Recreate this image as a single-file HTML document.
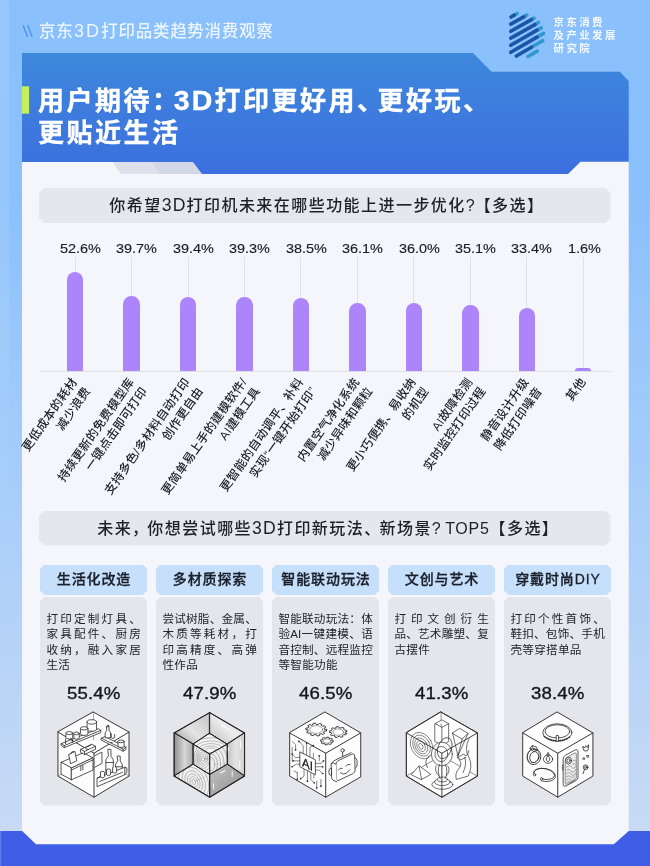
<!DOCTYPE html>
<html lang="zh-CN">
<head>
<meta charset="utf-8">
<title>京东3D打印品类趋势消费观察</title>
<style>
html,body{margin:0;padding:0;}
body{width:650px;height:866px;position:relative;overflow:hidden;
 font-family:"Liberation Sans","Noto Sans CJK SC",sans-serif;color:#20242c;
 background:linear-gradient(180deg,#8ac0fc 0%,#8ac0fc 22%,#a3ccfa 52%,#c8daf4 96%);}
#bg{position:absolute;left:0;top:0;width:650px;height:866px;}
.abs{position:absolute;}
#toptitle{position:absolute;left:39px;top:19px;height:24px;line-height:24px;font-size:16.5px;letter-spacing:0.7px;color:#ecf5ff;font-weight:500;white-space:nowrap;}
#logotext{position:absolute;left:553.6px;top:15.7px;font-size:10.4px;line-height:13px;letter-spacing:2.45px;color:#f4f9ff;font-weight:700;white-space:nowrap;}
#h1{position:absolute;left:38px;top:84.5px;font-size:26px;line-height:32.5px;font-weight:700;color:#fff;letter-spacing:2.5px;white-space:nowrap;-webkit-text-stroke:0.35px #fff;}
#h1 .p{display:inline-block;width:20.5px;overflow:visible;}
.pill{position:absolute;left:39px;width:571.5px;height:35px;background:#e5e7ed;font-size:16px;line-height:35px;letter-spacing:1.45px;color:#1c2028;font-weight:500;white-space:nowrap;
 clip-path:polygon(5px 0,calc(100% - 5px) 0,100% 5px,100% calc(100% - 5px),calc(100% - 5px) 100%,5px 100%,0 calc(100% - 5px),0 5px);}
.vl{position:absolute;width:1px;background:#dfe2e8;}
.bar{position:absolute;width:16.4px;background:#ac85fb;border-radius:8.2px 8.2px 0 0;}
.val{position:absolute;top:240px;height:18px;line-height:18px;font-size:13.5px;letter-spacing:0;color:#1a1d24;white-space:nowrap;transform:scaleX(1.07);transform-origin:0 50%;-webkit-text-stroke:0.15px #1a1d24;}
.lab{position:absolute;top:371.5px;font-size:12px;line-height:15.7px;text-align:right;white-space:nowrap;color:#1c2028;font-weight:500;letter-spacing:0.3px;
 transform-origin:100% 7.85px;transform:rotate(-55deg);}
#axis{position:absolute;left:40px;top:370.5px;width:570.5px;height:1px;background:#dde0e7;}
.chd{position:absolute;top:564.5px;width:107.5px;height:30.5px;line-height:29.5px;background:#c6e0fc;text-align:center;font-size:14px;font-weight:500;letter-spacing:0.9px;padding-left:0.9px;box-sizing:border-box;color:#1a1f29;-webkit-text-stroke:0.3px #1a1f29;white-space:nowrap;
 clip-path:polygon(4.5px 0,calc(100% - 4.5px) 0,100% 4.5px,100% calc(100% - 4.5px),calc(100% - 4.5px) 100%,4.5px 100%,0 calc(100% - 4.5px),0 4.5px);}
.cbd{position:absolute;top:597px;width:107.5px;height:208.5px;background:#e4e6ec;
 clip-path:polygon(4.5px 0,calc(100% - 4.5px) 0,100% 4.5px,100% calc(100% - 4.5px),calc(100% - 4.5px) 100%,4.5px 100%,0 calc(100% - 4.5px),0 4.5px);}
.ctx{position:absolute;left:6.6px;top:13.5px;width:94.4px;font-size:11.6px;line-height:15.5px;color:#20242c;}
.ctx span{display:block;white-space:nowrap;height:15.5px;}
.ctx .jl{text-align:justify;text-align-last:justify;text-justify:inter-character;}
.ctx .ll{text-align:left;letter-spacing:0.3px;}
.pct{position:absolute;left:0;width:100%;top:84.2px;height:24px;line-height:24px;text-align:center;font-size:17.4px;letter-spacing:0.15px;color:#14171d;-webkit-text-stroke:0.35px #14171d;transform:scaleX(1.07);}
.cube{position:absolute;left:13px;top:110px;width:82px;height:94px;}
.pill span.t{position:absolute;top:0;}
.pill .l{font-size:17.6px;letter-spacing:1.2px;line-height:10px;}
.pill .q{letter-spacing:0;}
.pill .pn{margin-right:-2.2px;}
</style>
</head>
<body>
<svg id="bg" viewBox="0 0 650 866">
 <defs>
  <linearGradient id="hg" x1="0" y1="0" x2="0" y2="1">
   <stop offset="0" stop-color="#3e88dc"/>
   <stop offset="1" stop-color="#3c6fdf"/>
  </linearGradient>
 <linearGradient id="sg" x1="0" y1="0" x2="0" y2="1"><stop offset="0" stop-color="#fff" stop-opacity="0.12"/><stop offset=".35" stop-color="#fff" stop-opacity="0.08"/><stop offset=".6" stop-color="#fff" stop-opacity="0"/></linearGradient>
 </defs>
 <rect x="0" y="0" width="9" height="866" fill="url(#sg)"/>
 <!-- white panel -->
 <rect x="22" y="160" width="606.7" height="690" fill="#f5f6fb"/>
 <!-- grey tab -->
 <polygon points="112,161 193,161 202,174 120.6,174" fill="#dde1eb"/>
 <polygon points="151.4,161 193,161 202,174 159.5,174" fill="#d2d8e5"/>
 <!-- blue header -->
 <polygon points="22,53 473,53 491.5,71.7 619.8,71.7 628.7,81 628.7,161.7 580.5,161.7 568,174 202,174 193,162 22,162" fill="url(#hg)"/>
 <path d="M23.1,25.3 L27.6,37 M27.6,25.3 L32.2,37" stroke="#4c92e4" stroke-width="1.3" fill="none"/>
 <!-- green accent -->
 <rect x="21.7" y="86.3" width="7.4" height="27.4" fill="#c6f05a"/>
 <!-- footer -->
 <polygon points="0,831 22.2,831 36,844.2 613.8,844.2 628.7,831 650,831 650,866 0,866" fill="#3e5ee6"/>
 <rect x="0" y="831" width="1.2" height="35" fill="#5d7cf0"/>
 <!-- logo -->
 <g id="logo" transform="translate(500,5) scale(0.0862)" stroke-linecap="round" stroke-width="42" fill="none">
  <path d="M325,598 L432,535 M365,490 L495,415 M430,372 L505,330 M430,292 L480,265 M405,228 L445,203 M365,170 L395,152 M275,137 L310,118 M165,118 L200,98" stroke="#3398cf"/>
  <path d="M128,140 L165,118 M125,222 L275,137 M125,305 L365,170 M125,385 L405,228 M125,467 L430,292 M125,548 L430,372 M190,592 L365,490" stroke="#1a55a8"/>
 </g>
</svg>

<div id="toptitle">京东<span style="font-size:18px;letter-spacing:2.2px;margin-left:0.5px;line-height:10px">3D</span>打印品类趋势消费观察</div>
<div id="logotext">京东消费<br>及产业发展<br>研究院</div>

<div id="h1">用户期待<span class="p">：</span><span style="font-size:28.5px;letter-spacing:2.2px;margin-left:1.2px;line-height:20px">3D</span>打印更好用<span class="p">、</span>更好玩<span class="p">、</span><br>更贴近生活</div>

<div class="pill" style="top:188px"><span class="t" style="left:70.3px">你希望<span class="l">3D</span>打印机未来在哪些功能上进一步优化<span class="q">?</span>【多选】</span></div>
<div id="axis"></div>
<div class="vl" style="left:74.65px;top:257px;height:14.8px"></div>
<div class="bar" style="left:66.95px;top:271.8px;height:99.2px"></div>
<div class="val" style="left:59.75px">52.6%</div>
<div class="lab" style="right:574.95px">更低成本的耗材<br>减少浪费</div>
<div class="vl" style="left:131.11px;top:257px;height:39.2px"></div>
<div class="bar" style="left:123.41px;top:296.2px;height:74.8px"></div>
<div class="val" style="left:116.21px">39.7%</div>
<div class="lab" style="right:518.49px">持续更新的免费模型库<br>一键点击即可打印</div>
<div class="vl" style="left:187.57px;top:257px;height:39.7px"></div>
<div class="bar" style="left:179.87px;top:296.7px;height:74.3px"></div>
<div class="val" style="left:172.67px">39.4%</div>
<div class="lab" style="right:462.03px">支持多色/多材料自动打印<br>创作更自由</div>
<div class="vl" style="left:244.03px;top:257px;height:39.9px"></div>
<div class="bar" style="left:236.33px;top:296.9px;height:74.1px"></div>
<div class="val" style="left:229.13px">39.3%</div>
<div class="lab" style="right:405.57px">更简单易上手的建模软件/<br>AI建模工具</div>
<div class="vl" style="left:300.49px;top:257px;height:41.4px"></div>
<div class="bar" style="left:292.79px;top:298.4px;height:72.6px"></div>
<div class="val" style="left:285.59px">38.5%</div>
<div class="lab" style="right:349.11px">更智能的自动调平、补料<br>实现“一键开始打印”</div>
<div class="vl" style="left:356.95px;top:257px;height:46.0px"></div>
<div class="bar" style="left:349.25px;top:303.0px;height:68.0px"></div>
<div class="val" style="left:342.05px">36.1%</div>
<div class="lab" style="right:292.65px">内置空气净化系统<br>减少异味和颗粒</div>
<div class="vl" style="left:413.41px;top:257px;height:46.1px"></div>
<div class="bar" style="left:405.71px;top:303.1px;height:67.9px"></div>
<div class="val" style="left:398.51px">36.0%</div>
<div class="lab" style="right:236.19px">更小巧便携、易收纳<br>的机型</div>
<div class="vl" style="left:469.87px;top:257px;height:47.8px"></div>
<div class="bar" style="left:462.17px;top:304.8px;height:66.2px"></div>
<div class="val" style="left:454.97px">35.1%</div>
<div class="lab" style="right:179.73px">AI故障检测<br>实时监控打印过程</div>
<div class="vl" style="left:526.33px;top:257px;height:51.0px"></div>
<div class="bar" style="left:518.63px;top:308.0px;height:63.0px"></div>
<div class="val" style="left:511.43px">33.4%</div>
<div class="lab" style="right:123.27px">静音设计升级<br>降低打印噪音</div>
<div class="vl" style="left:582.79px;top:257px;height:111.0px"></div>
<div class="bar" style="left:575.09px;top:368.0px;height:3.0px"></div>
<div class="val" style="left:567.89px">1.6%</div>
<div class="lab" style="right:66.81px">其他</div>

<div class="pill" style="top:510.5px"><span class="t" style="left:58.2px">未来<span class="pn">，</span>你想尝试哪些<span class="l">3D</span>打印新玩法<span class="pn">、</span>新场景<span class="q">? </span><span style="letter-spacing:0.7px">TOP5</span>【多选】</span></div>
<div class="chd" style="left:39.8px">生活化改造</div>
<div class="cbd" style="left:39.8px"><div class="ctx"><span class="jl">打印定制灯具、</span><span class="jl">家具配件、厨房</span><span class="jl">收纳，融入家居</span><span class="ll">生活</span></div><div class="pct">55.4%</div><svg class="cube" viewBox="0 0 82 94"><g transform="translate(-12.8,-2) scale(0.1692)" fill="none" stroke="#262626" stroke-width="4.6" stroke-linejoin="round" stroke-linecap="round">
<polygon points="315,42 525,160 525,420 318,545 105,420 105,160" fill="#fdfdfd" stroke-width="5.4"/>
<path d="M105,160 L318,285 L525,160 M318,285 L318,545" stroke-width="5.4"/>
<path d="M315,42 L315,205 M105,420 L200,365 M525,420 L505,408" stroke-width="3" stroke="#555"/>
<!-- left shelf -->
<path d="M125,228 L345,140 L358,150 L358,163 L142,252 L125,240 Z M125,228 L142,240 L358,150 M142,240 L142,252" fill="#fff"/>
<!-- jars -->
<path d="M277,100 v42 a28,13 0 0 0 56,0 v-42" fill="#fff"/><ellipse cx="305" cy="100" rx="28" ry="13" fill="#fff"/>
<path d="M238,138 v32 a22,10 0 0 0 44,0 v-32" fill="#fff"/><ellipse cx="260" cy="138" rx="22" ry="10" fill="#fff"/>
<path d="M199,168 v26 a16,8 0 0 0 32,0 v-26" fill="#fff"/><ellipse cx="215" cy="168" rx="16" ry="8" fill="#fff"/>
<path d="M152,166 v26 a20,9 0 0 0 40,0 v-26" fill="#fff"/><ellipse cx="172" cy="166" rx="20" ry="9" fill="#fff"/>
<path d="M150,200 v28 M190,200 v20"/>
<!-- right shelf -->
<path d="M362,196 L382,186 L507,250 L507,263 L490,273 L362,208 Z M362,196 L490,261 L507,250 M490,261 L490,273" fill="#fff"/>
<path d="M393,128 h14 v22 l9,14 v30 h-32 v-30 l9,-14 z" fill="#fff"/><circle cx="400" cy="124" r="5" fill="#fff"/>
<path d="M460,215 v28 a18,8 0 0 0 36,0 v-28" fill="#fff"/><ellipse cx="478" cy="215" rx="18" ry="8" fill="#fff"/>
<path d="M420,170 v22 a10,5 0 0 0 20,0 v-18" />
<!-- counter -->
<path d="M125,338 L255,282 L312,312 L185,372 Z" fill="#fff"/>
<path d="M125,338 L185,372 L185,442 L125,410 Z" fill="#fff"/>
<path d="M185,372 L312,312 L312,385 L185,442 Z" fill="#fff"/>
<path d="M185,384 L312,324 M240,362 v26 M252,357 v26"/>
<path d="M170,292 L205,274 L216,330 L182,346 Z M178,290 q8,-22 22,-14" fill="#fff"/>
<path d="M240,262 L305,232 L327,244 L327,262 L262,292 L240,280 Z M240,262 L262,274 L327,244 M262,274 v18 M270,250 l30,-13" fill="#fff"/>
<path d="M322,300 L365,278 L365,345 L322,368" />
<!-- bottles -->
<path d="M402,262 h16 v40 l14,22 v80 h-44 v-80 l14,-22 z" fill="#fff"/><path d="M388,340 h44"/>
<path d="M457,302 h16 v30 l12,18 v56 h-40 v-56 l12,-18 z" fill="#fff"/><path d="M445,365 h40"/>
<!-- crate -->
<path d="M338,432 L500,368 L500,412 L338,482 Z" fill="#fff"/>
<path d="M338,432 L358,420 M500,368 L512,372 L512,398 L500,412"/>
<path d="M356,398 v26 a12,6 0 0 0 24,0 v-26 a12,6 0 0 0 -24,0 M392,384 v26 a12,6 0 0 0 24,0 v-26 a12,6 0 0 0 -24,0 M428,370 v26 a12,6 0 0 0 24,0 v-26" fill="#fff"/>
<path d="M352,452 L486,398" />
</g></svg></div>
<div class="chd" style="left:155.8px">多材质探索</div>
<div class="cbd" style="left:155.8px"><div class="ctx"><span class="jl">尝试树脂、金属、</span><span class="jl">木质等耗材，打</span><span class="jl">印高精度、高弹</span><span class="ll">性作品</span></div><div class="pct">47.9%</div><svg class="cube" viewBox="0 0 82 94">
<defs>
<linearGradient id="m1" x1="0" y1="1" x2="1" y2="0"><stop offset="0" stop-color="#9a9a9a"/><stop offset=".45" stop-color="#e4e4e4"/><stop offset="1" stop-color="#c4c4c4"/></linearGradient>
<linearGradient id="m2" x1="0" y1="0" x2="1" y2="0"><stop offset="0" stop-color="#909090"/><stop offset=".55" stop-color="#d8d8d8"/><stop offset="1" stop-color="#a8a8a8"/></linearGradient>
<linearGradient id="m3" x1="1" y1="1" x2="0" y2="0"><stop offset="0" stop-color="#8c8c8c"/><stop offset="1" stop-color="#c4c4c4"/></linearGradient>
<linearGradient id="m4" x1="0" y1="0" x2="1" y2="0"><stop offset="0" stop-color="#c2c2c2"/><stop offset=".5" stop-color="#e4e4e4"/><stop offset="1" stop-color="#cfcfcf"/></linearGradient>
<linearGradient id="m5" x1="0" y1="1" x2="1" y2="0"><stop offset="0" stop-color="#bdbdbd"/><stop offset=".5" stop-color="#ececec"/><stop offset="1" stop-color="#d8d8d8"/></linearGradient>
<clipPath id="cit"><polygon points="322,168 425,232 322,290 225,232"/></clipPath><clipPath id="cil"><polygon points="225,232 322,290 322,410 225,350"/></clipPath><clipPath id="cir"><polygon points="425,232 322,290 322,410 425,350"/></clipPath>
<clipPath id="cbl"><polygon points="112,420 322,545 322,410 225,350"/></clipPath>
</defs>
<g transform="translate(-13.8,-2) scale(0.1692)" fill="none" stroke="#262626" stroke-width="5.2" stroke-linejoin="round" stroke-linecap="round">
<polygon points="322,45 112,165 225,232 322,168" fill="url(#m1)"/>
<polygon points="322,45 528,165 425,232 322,168" fill="url(#m5)"/>
<polygon points="112,165 112,420 225,350 225,232" fill="url(#m2)"/>
<polygon points="528,165 528,420 425,350 425,232" fill="url(#m4)"/>
<polygon points="112,420 322,545 322,410 225,350" fill="#f0f0f0"/>
<polygon points="528,420 322,545 322,410 425,350" fill="url(#m3)"/>
<polygon points="322,168 425,232 322,290 225,232" fill="#f4f4f4"/>
<polygon points="225,232 322,290 322,410 225,350" fill="#f1f1f1"/>
<polygon points="425,232 322,290 322,410 425,350" fill="#ebebeb"/>
<g stroke="#6a6a6a" stroke-width="2.5" clip-path="url(#cil)">
<ellipse cx="283" cy="318" rx="9" ry="15"/><ellipse cx="283" cy="318" rx="18" ry="28"/><ellipse cx="284" cy="318" rx="27" ry="42"/><ellipse cx="285" cy="318" rx="36" ry="57"/><ellipse cx="286" cy="318" rx="46" ry="74"/><ellipse cx="288" cy="318" rx="58" ry="94"/><ellipse cx="290" cy="318" rx="72" ry="116"/></g>
<g stroke="#6a6a6a" stroke-width="2.5" clip-path="url(#cir)">
<ellipse cx="330" cy="350" rx="22" ry="40"/><ellipse cx="332" cy="350" rx="36" ry="60"/><ellipse cx="335" cy="350" rx="52" ry="82"/><ellipse cx="338" cy="350" rx="70" ry="106"/><ellipse cx="340" cy="350" rx="90" ry="130"/><ellipse cx="342" cy="350" rx="112" ry="158"/></g>
<g stroke="#6a6a6a" stroke-width="2.5" clip-path="url(#cit)">
<ellipse cx="330" cy="268" rx="30" ry="14"/><ellipse cx="330" cy="268" rx="52" ry="26"/><ellipse cx="330" cy="268" rx="76" ry="40"/><ellipse cx="330" cy="268" rx="100" ry="56"/><ellipse cx="330" cy="268" rx="125" ry="74"/><ellipse cx="330" cy="268" rx="150" ry="94"/>
</g>
<g stroke="#777" stroke-width="2.4" clip-path="url(#cbl)">
<ellipse cx="228" cy="455" rx="10" ry="16" transform="rotate(-25 228 455)"/><ellipse cx="228" cy="455" rx="22" ry="32" transform="rotate(-25 228 455)"/><ellipse cx="228" cy="455" rx="34" ry="50" transform="rotate(-25 228 455)"/><ellipse cx="228" cy="455" rx="48" ry="70" transform="rotate(-25 228 455)"/><ellipse cx="228" cy="455" rx="64" ry="92" transform="rotate(-25 228 455)"/><ellipse cx="228" cy="455" rx="82" ry="116" transform="rotate(-25 228 455)"/><ellipse cx="228" cy="455" rx="102" ry="142" transform="rotate(-25 228 455)"/>
</g>
<g stroke="#fff" stroke-width="6" opacity=".9"><path d="M505,210 v45 M500,330 v45 M392,118 l42,24 M385,402 l28,-13 M345,465 v32 M455,392 v30 M432,250 v20"/></g>
<path d="M322,168 L425,232 L425,350 L322,410 L225,350 L225,232 Z M225,232 L322,290 L425,232 M322,290 V410 M322,45 V168 M112,165 L225,232 M528,165 L425,232 M112,420 L225,350 M528,420 L425,350 M322,545 V410"/>
<polygon points="322,45 528,165 528,420 322,545 112,420 112,165" stroke-width="6.5"/>
</g></svg></div>
<div class="chd" style="left:271.8px">智能联动玩法</div>
<div class="cbd" style="left:271.8px"><div class="ctx"><span class="jl">智能联动玩法：体</span><span class="jl">验AI一键建模、语</span><span class="jl">音控制、远程监控</span><span class="ll">等智能功能</span></div><div class="pct">46.5%</div><svg class="cube" viewBox="0 0 82 94"><g transform="translate(-14.8,-2) scale(0.1692)" fill="none" stroke="#262626" stroke-width="4.6" stroke-linejoin="round" stroke-linecap="round">
<polygon points="325,42 535,165 535,425 328,545 115,420 115,165" fill="#fdfdfd" stroke-width="5.4"/>
<path d="M115,165 L328,285 L535,165 M328,285 L328,545" stroke-width="5.4"/>
<g fill="#fff" stroke-width="5.2">
<path d="M334,145 L332,154 L319,154 L314,161 L322,167 L312,174 L301,170 L291,173 L291,181 L277,183 L272,175 L260,175 L253,181 L239,177 L243,170 L234,165 L222,167 L215,159 L225,154 L223,147 L210,145 L212,136 L225,136 L230,129 L222,123 L232,116 L243,120 L253,117 L253,109 L267,107 L272,115 L284,115 L291,109 L305,113 L301,120 L310,125 L322,123 L329,131 L319,136 L321,143 Z"/><ellipse cx="272" cy="145" rx="27" ry="16"/><ellipse cx="272" cy="145" rx="38" ry="23" stroke-width="2.5"/>
<path d="M452,169 L446,177 L435,175 L427,180 L430,187 L418,191 L411,185 L400,186 L395,192 L382,190 L383,183 L374,179 L364,182 L356,175 L364,170 L361,163 L350,162 L351,153 L362,152 L367,146 L361,141 L370,135 L379,138 L389,136 L390,129 L404,128 L407,135 L418,136 L426,132 L437,136 L433,143 L439,148 L450,148 L454,156 L444,159 L443,165 Z"/><ellipse cx="402" cy="160" rx="22" ry="13"/><ellipse cx="402" cy="160" rx="31" ry="19" stroke-width="2.5"/>
<path d="M373,213 L371,220 L362,220 L358,224 L362,229 L353,233 L346,230 L338,231 L335,236 L324,235 L324,230 L316,227 L308,229 L301,224 L308,220 L305,215 L297,213 L299,206 L308,206 L312,202 L308,197 L317,193 L324,196 L332,195 L335,190 L346,191 L346,196 L354,199 L362,197 L369,202 L362,206 L365,211 Z"/><ellipse cx="335" cy="213" rx="14" ry="8"/><ellipse cx="335" cy="213" rx="22" ry="13" stroke-width="2.5"/>
</g>
<g stroke-width="3.4" stroke="#2e2e2e">
<path d="M195,290 V240 L170,215 M215,300 V225 M235,312 V250 L255,240 M255,322 V285 M180,310 H150 L130,290 M180,330 H135 M180,350 H155 L130,365 M265,345 H300 L315,330 M265,365 H310 M265,385 H290 L310,405 M200,375 V420 L180,435 M220,386 V450 M240,397 V440 L260,460 M258,407 V430 M130,215 L150,235 V265 M130,250 V330 M290,300 V330 M300,440 V480 M160,400 V440 M275,450 V490 M140,390 L160,400"/>
</g>
<g fill="#2e2e2e" stroke="none"><circle cx="170" cy="215" r="5"/><circle cx="215" cy="225" r="5"/><circle cx="255" cy="240" r="5"/><circle cx="130" cy="290" r="5"/><circle cx="135" cy="330" r="5"/><circle cx="130" cy="365" r="5"/><circle cx="315" cy="330" r="5"/><circle cx="310" cy="365" r="5"/><circle cx="310" cy="405" r="5"/><circle cx="180" cy="435" r="5"/><circle cx="220" cy="450" r="5"/><circle cx="260" cy="460" r="5"/><circle cx="150" cy="265" r="5"/><circle cx="290" cy="300" r="5"/><circle cx="300" cy="480" r="5"/><circle cx="160" cy="440" r="5"/><circle cx="275" cy="490" r="5"/></g>
<polygon points="177,278 267,324 267,412 177,366" fill="#fff"/>
<path d="M388,352 q0,-16 14,-23 l80,-38 q16,-7 17,10 l3,84 q0,14 -14,21 l-80,38 q-16,7 -17,-10 z" fill="#fff"/>
<path d="M388,350 q-18,-16 -28,-2 l3,84 q3,16 30,22" fill="#fff"/><path d="M360,348 q10,-20 40,-30 l78,-36"/>
<path d="M360,372 q-14,4 -13,18 l1,18 q2,10 13,6 z" fill="#fff"/>
<path d="M500,312 q12,2 13,16 l1,26 q-1,14 -12,20"/>
<path d="M403,385 q8,-17 23,-11 M448,362 q8,-17 23,-11 M415,400 q26,24 56,-18"/>
<path d="M428,303 v-24"/><circle cx="428" cy="268" r="10" fill="#fff"/>
</g>
<text transform="matrix(1,0.5,0,1.1,16.9,59.0)" font-family="'Liberation Sans',sans-serif" font-weight="400" font-size="11.6" fill="#161616" stroke="#161616" stroke-width="0.25">AI</text>
</svg></div>
<div class="chd" style="left:387.8px">文创与艺术</div>
<div class="cbd" style="left:387.8px"><div class="ctx"><span class="jl">打印文创衍生</span><span class="jl">品、艺术雕塑、复</span><span class="ll">古摆件</span></div><div class="pct">41.3%</div><svg class="cube" viewBox="0 0 82 94"><g transform="translate(-15.8,-2) scale(0.1692)" fill="none" stroke="#2c2c2c" stroke-width="4" stroke-linejoin="round" stroke-linecap="round">
<polygon points="330,42 545,165 545,420 335,545 125,420 125,165" fill="#fdfdfd" stroke-width="5.2"/>
<path d="M330,42 L332,240 M125,420 L332,300 L545,420" stroke-width="3.4" stroke="#444"/>
<!-- pillar -->
<path d="M295,110 L335,88 L375,110 L375,215 L335,240 L295,215 Z M295,110 L335,132 L375,110 M335,132 V240" fill="#fff"/>
<!-- spiral -->
<g stroke-width="3"><ellipse cx="215" cy="240" rx="62" ry="82" transform="rotate(-28 215 240)" fill="#fff"/><ellipse cx="215" cy="240" rx="48" ry="66" transform="rotate(-28 215 240)"/><ellipse cx="213" cy="242" rx="35" ry="50" transform="rotate(-28 213 242)"/><ellipse cx="212" cy="243" rx="23" ry="34" transform="rotate(-28 212 243)"/><ellipse cx="211" cy="244" rx="11" ry="18" transform="rotate(-28 211 244)"/></g>
<!-- torus/vase -->
<ellipse cx="335" cy="290" rx="62" ry="70" fill="#fff"/><ellipse cx="332" cy="290" rx="38" ry="45"/><ellipse cx="352" cy="255" rx="40" ry="65" transform="rotate(20 352 255)"/>
<path d="M250,370 q-25,-40 10,-70 M300,360 q-10,40 20,60 M370,360 q20,30 -10,60"/>
<!-- crystal -->
<path d="M398,165 L440,138 L490,168 L455,200 Z M398,165 L430,300 L455,200 M430,300 L490,168" fill="#fff"/>
<!-- wave sculpture -->
<path d="M495,200 q-30,60 0,110 q25,50 -5,110 l-70,20 q-10,-40 20,-70 q20,-30 -15,-60 l40,-20 q15,30 30,-20" fill="#fff"/>
<path d="M425,300 l20,25 l30,-15 M470,310 q15,40 -10,90"/>
<!-- pyramid -->
<path d="M155,410 L200,360 L270,410 L215,440 Z M200,360 L215,440" fill="#fff"/>
<!-- stacked rings -->
<ellipse cx="338" cy="470" rx="62" ry="28" fill="#fff"/><ellipse cx="338" cy="455" rx="46" ry="21" fill="#fff"/><ellipse cx="338" cy="440" rx="30" ry="14" fill="#fff"/>
<path d="M320,350 q-15,50 5,85 M355,350 q20,45 0,85"/>
<path d="M125,165 L335,285 L545,165 M335,285 L335,545" stroke-width="5.2"/>
<polygon points="330,42 545,165 545,420 335,545 125,420 125,165" stroke-width="5.2"/>
</g></svg></div>
<div class="chd" style="left:503.8px">穿戴时尚DIY</div>
<div class="cbd" style="left:503.8px"><div class="ctx"><span class="jl">打印个性首饰、</span><span class="jl">鞋扣、包饰、手机</span><span class="ll">壳等穿搭单品</span></div><div class="pct">38.4%</div><svg class="cube" viewBox="0 0 82 94"><g transform="translate(-16.8,-2) scale(0.1692)" fill="none" stroke="#262626" stroke-width="4.6" stroke-linejoin="round" stroke-linecap="round">
<polygon points="338,42 548,165 548,420 340,545 133,420 133,165" fill="#fdfdfd" stroke-width="5.4"/>
<path d="M133,165 L340,285 L548,165 M340,285 L340,545" stroke-width="5.4"/>
<!-- bracelet -->
<ellipse cx="338" cy="163" rx="86" ry="52" fill="#fff"/><ellipse cx="338" cy="156" rx="73" ry="39"/>
<path d="M260,186 q78,50 156,0" stroke-dasharray="5 9" stroke-width="8"/>
<rect x="331" y="180" width="14" height="34" rx="4" fill="#fff"/>
<!-- ring -->
<ellipse cx="200" cy="306" rx="40" ry="47" transform="rotate(14 200 306)" fill="#fff"/><ellipse cx="201" cy="308" rx="26" ry="33" transform="rotate(14 201 308)"/><ellipse cx="195" cy="300" rx="36" ry="42" transform="rotate(14 195 300)" stroke-width="2.6"/>
<path d="M176,256 l14,-16 l24,8 l6,18 l-20,8 z M190,240 l6,22 l24,4 M196,262 l-20,-6" fill="#fff"/>
<!-- pendant -->
<ellipse cx="283" cy="320" rx="27" ry="25" fill="#fff"/><path d="M283,300 q-22,22 0,36 q22,-14 0,-36 z"/><path d="M274,298 l9,-18 l9,18"/>
<!-- bangle -->
<path d="M205,415 a62,32 10 1 1 40,22" /><path d="M196,402 a66,38 10 1 1 46,46"/><circle cx="203" cy="412" r="7" fill="#fff"/><circle cx="244" cy="436" r="7" fill="#fff"/>
<!-- phone case -->
<path d="M372,318 q0,-14 13,-21 l55,-30 q20,-9 20,10 v150 q0,12 -12,19 l-58,32 q-18,8 -18,-10 z" fill="#fff"/>
<path d="M384,325 q0,-10 9,-15 l45,-25 q12,-6 12,6 v138 q0,8 -8,13 l-48,26 q-10,5 -10,-6 z" fill="#ececec" stroke-width="3"/>
<ellipse cx="404" cy="328" rx="18" ry="20" fill="#fff"/><ellipse cx="404" cy="328" rx="9" ry="10"/>
<g stroke-width="2.6" stroke="#444"><path d="M392,368 q20,-20 30,0 q10,15 25,-5 M392,386 q15,-15 25,5 q12,18 30,-10 M392,404 q18,-12 28,6 q10,14 27,-8 M392,422 q14,-10 26,4 q10,10 24,-8 M392,440 q14,-10 26,4 q10,10 24,-8 M394,456 q14,-8 24,2 q10,8 20,-8 M430,330 q10,-8 16,2 M428,350 q10,-8 18,0"/></g>
<path d="M370,355 v30"/>
<!-- charms -->
<path d="M490,245 l8,10 l8,-14 l8,10 l8,-16 v22 l-6,14 h-20 l-6,-14 z" fill="#fff"/>
<path d="M488,318 l6,-8 l6,8 z M512,300 q6,-8 12,0 q0,8 -6,12 q-8,-4 -6,-12 z" fill="#fff"/>
<circle cx="505" cy="368" r="14" fill="#fff"/><circle cx="505" cy="368" r="6"/><path d="M498,380 l-8,26"/>
</g></svg></div>
</body>
</html>
